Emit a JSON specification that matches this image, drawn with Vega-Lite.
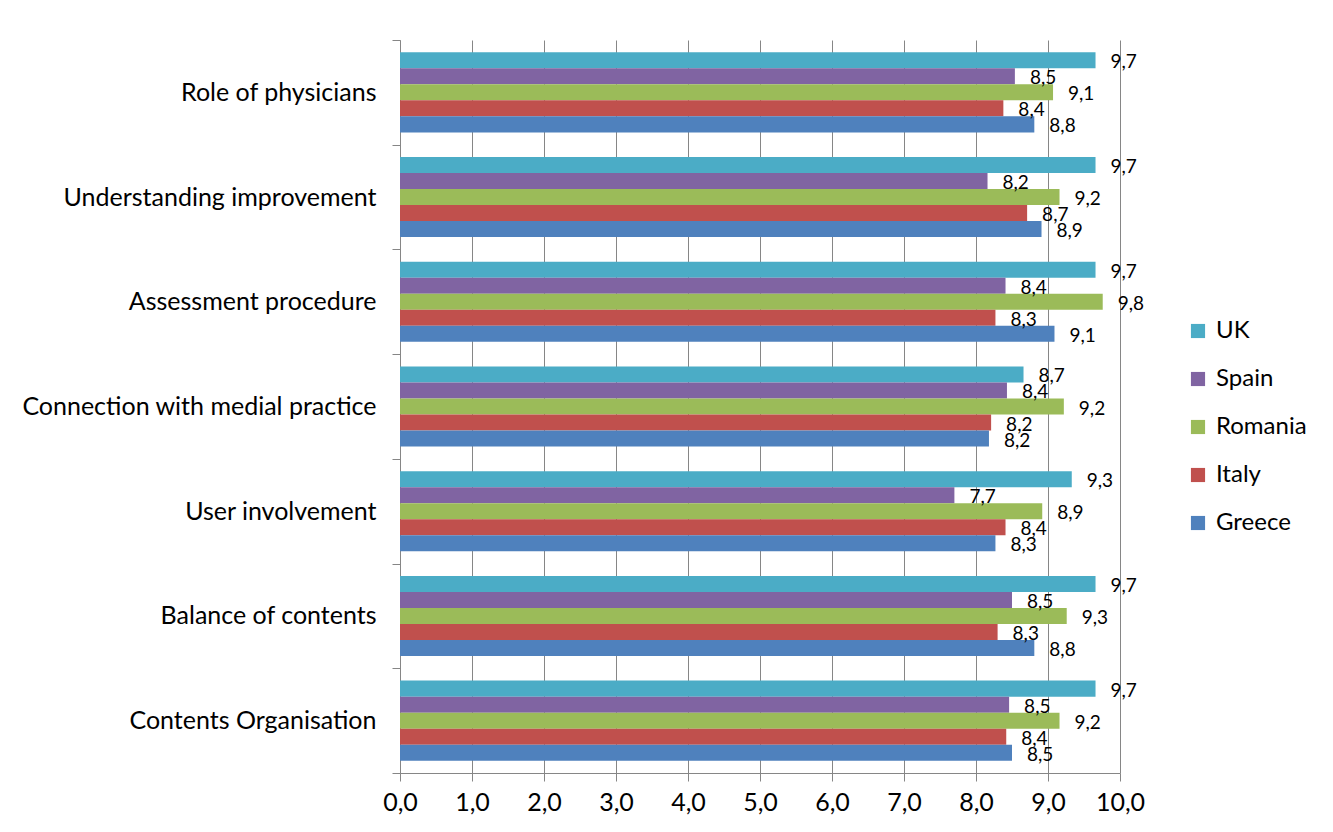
{
  "$schema": "https://vega.github.io/schema/vega-lite/v6.json",
  "width": 720,
  "height": 733,
  "autosize": {"type": "none"},
  "padding": {"left": 400, "top": 40, "right": 213, "bottom": 59},
  "background": "white",
  "data": {
    "values": [
      {"topic": "Role of physicians", "country": "UK", "score": 9.66},
      {"topic": "Role of physicians", "country": "Spain", "score": 8.54},
      {"topic": "Role of physicians", "country": "Romania", "score": 9.07},
      {"topic": "Role of physicians", "country": "Italy", "score": 8.38},
      {"topic": "Role of physicians", "country": "Greece", "score": 8.81},
      {"topic": "Understanding improvement", "country": "UK", "score": 9.66},
      {"topic": "Understanding improvement", "country": "Spain", "score": 8.16},
      {"topic": "Understanding improvement", "country": "Romania", "score": 9.16},
      {"topic": "Understanding improvement", "country": "Italy", "score": 8.71},
      {"topic": "Understanding improvement", "country": "Greece", "score": 8.91},
      {"topic": "Assessment procedure", "country": "UK", "score": 9.66},
      {"topic": "Assessment procedure", "country": "Spain", "score": 8.41},
      {"topic": "Assessment procedure", "country": "Romania", "score": 9.76},
      {"topic": "Assessment procedure", "country": "Italy", "score": 8.27},
      {"topic": "Assessment procedure", "country": "Greece", "score": 9.09},
      {"topic": "Connection with medial practice", "country": "UK", "score": 8.66},
      {"topic": "Connection with medial practice", "country": "Spain", "score": 8.43},
      {"topic": "Connection with medial practice", "country": "Romania", "score": 9.22},
      {"topic": "Connection with medial practice", "country": "Italy", "score": 8.21},
      {"topic": "Connection with medial practice", "country": "Greece", "score": 8.18},
      {"topic": "User involvement", "country": "UK", "score": 9.33},
      {"topic": "User involvement", "country": "Spain", "score": 7.7},
      {"topic": "User involvement", "country": "Romania", "score": 8.92},
      {"topic": "User involvement", "country": "Italy", "score": 8.41},
      {"topic": "User involvement", "country": "Greece", "score": 8.27},
      {"topic": "Balance of contents", "country": "UK", "score": 9.66},
      {"topic": "Balance of contents", "country": "Spain", "score": 8.5},
      {"topic": "Balance of contents", "country": "Romania", "score": 9.26},
      {"topic": "Balance of contents", "country": "Italy", "score": 8.3},
      {"topic": "Balance of contents", "country": "Greece", "score": 8.81},
      {"topic": "Contents Organisation", "country": "UK", "score": 9.66},
      {"topic": "Contents Organisation", "country": "Spain", "score": 8.46},
      {"topic": "Contents Organisation", "country": "Romania", "score": 9.16},
      {"topic": "Contents Organisation", "country": "Italy", "score": 8.42},
      {"topic": "Contents Organisation", "country": "Greece", "score": 8.5}
    ]
  },
  "encoding": {
    "y": {
      "field": "topic",
      "type": "nominal",
      "sort": null,
      "title": null,
      "scale": {"paddingInner": 0, "paddingOuter": 0},
      "axis": {
        "tickBand": "extent",
        "tickSize": 8,
        "tickColor": "#868686",
        "domainColor": "#868686",
        "labelFont": "Lato",
        "labelFontSize": 25,
        "labelColor": "#000000",
        "labelPadding": 16,
        "labelLimit": 400
      }
    },
    "yOffset": {
      "field": "country",
      "type": "nominal",
      "sort": ["UK", "Spain", "Romania", "Italy", "Greece"],
      "scale": {"paddingInner": 0, "paddingOuter": 0.77}
    },
    "x": {
      "field": "score",
      "type": "quantitative",
      "title": null,
      "scale": {"domain": [0, 10], "nice": false},
      "axis": {
        "values": [0, 1, 2, 3, 4, 5, 6, 7, 8, 9, 10],
        "format": ".1f",
        "grid": true,
        "gridColor": "#868686",
        "tickSize": 8,
        "tickColor": "#868686",
        "domainColor": "#868686",
        "labelFont": "Lato",
        "labelFontSize": 25,
        "labelColor": "#000000",
        "labelPadding": 9,
        "labelFlush": false,
        "labelOverlap": false
      }
    }
  },
  "layer": [
    {
      "mark": {"type": "bar"},
      "encoding": {
        "color": {
          "field": "country",
          "type": "nominal",
          "sort": ["UK", "Spain", "Romania", "Italy", "Greece"],
          "scale": {
            "domain": ["UK", "Spain", "Romania", "Italy", "Greece"],
            "range": ["#4BACC6", "#8064A2", "#9BBB59", "#C0504D", "#4F81BD"]
          },
          "legend": {
            "title": null,
            "orient": "none",
            "legendX": 786,
            "legendY": 279,
            "symbolType": "square",
            "symbolSize": 200,
            "symbolStrokeWidth": 0,
            "labelFont": "Lato",
            "labelFontSize": 24,
            "labelColor": "#000000",
            "labelOffset": 6,
            "rowPadding": 24,
            "padding": 0
          }
        }
      }
    },
    {
      "mark": {"type": "text", "align": "left", "baseline": "middle", "dx": 15, "dy": 2, "font": "Lato", "fontSize": 19, "color": "#000000"},
      "encoding": {
        "text": {"field": "score", "type": "quantitative", "format": ".1f"}
      }
    }
  ],
  "config": {
    "view": {"stroke": null},
    "locale": {
      "number": {"decimal": ",", "thousands": ".", "grouping": [3], "currency": ["", " €"]}
    }
  }
}
